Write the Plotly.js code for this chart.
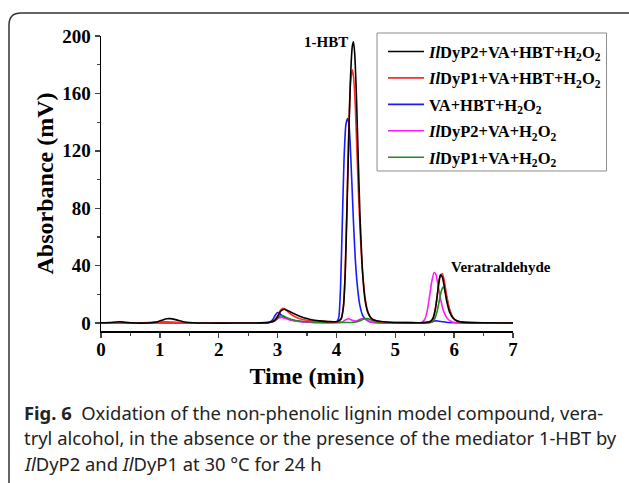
<!DOCTYPE html>
<html>
<head>
<meta charset="utf-8">
<script src="https://cdn.plot.ly/plotly-3.0.1.min.js"></script>
<style>html,body{margin:0;padding:0;background:#fff;}#chart{width:629px;height:483px;}</style>
</head>
<body>
<div id="chart"></div>
<script>
// ---- data ----
const seriesNames = [
  '<i>Il</i>DyP2+VA+HBT+H<sub>2</sub>O<sub>2</sub>',
  '<i>Il</i>DyP1+VA+HBT+H<sub>2</sub>O<sub>2</sub>',
  'VA+HBT+H<sub>2</sub>O<sub>2</sub>',
  '<i>Il</i>DyP2+VA+H<sub>2</sub>O<sub>2</sub>',
  '<i>Il</i>DyP1+VA+H<sub>2</sub>O<sub>2</sub>'
];
const seriesColors = ['#000000', '#ff2a2a', '#1a1aff', '#ff1aff', '#1f8c1f'];

const tBlack = [0,0.15,0.25,0.32,0.4,0.5,0.8,0.95,1.05,1.12,1.18,1.25,1.32,1.4,1.5,1.65,2.0,2.6,2.85,2.95,3.0,3.04,3.08,3.12,3.16,3.22,3.3,3.4,3.5,3.6,3.75,3.9,4.02,4.08,4.12,4.15,4.18,4.21,4.24,4.27,4.29,4.31,4.34,4.37,4.4,4.44,4.48,4.53,4.6,4.7,4.85,5.2,5.5,5.6,5.65,5.69,5.72,5.75,5.77,5.8,5.83,5.87,5.92,5.98,6.05,6.2,6.5,7.0];
const vBlack = [0.2,0.4,0.8,0.9,0.6,0.2,0.1,0.8,2.2,3.0,3.1,2.6,1.8,1.0,0.4,0.1,0,0.1,0.5,1.8,4.5,7.5,9.2,9.6,9.0,7.8,6.2,4.5,3.2,2.2,1.4,1.0,1.2,3,12,35,80,130,172,193,196,188,158,115,75,38,18,8,3,1.5,0.8,0.3,0.3,1.2,4,12,22,31,33.6,32,26,16,8,3.5,1.5,0.5,0.2,0.1];

const tRed = [0,0.5,0.9,1.1,1.3,1.6,2.5,2.85,2.95,3.0,3.04,3.08,3.11,3.15,3.2,3.28,3.38,3.5,3.65,3.8,3.9,4.02,4.08,4.12,4.15,4.18,4.21,4.24,4.27,4.29,4.32,4.35,4.38,4.42,4.46,4.5,4.55,4.62,4.72,4.9,5.3,5.55,5.62,5.67,5.71,5.74,5.77,5.8,5.83,5.87,5.92,5.98,6.05,6.2,6.5,7.0];
const vRed = [0,0,0.3,0.6,0.3,0,0,0.4,2.0,5,8.5,10.2,10.0,8.8,7.0,4.8,3.0,2.0,1.3,1.4,0.9,1.0,3,12,38,85,135,168,176.5,172,152,118,85,50,28,14,6,2.5,1.2,0.6,0.3,0.5,2,8,18,28,33.5,34.3,30,20,10,4,1.5,0.5,0.2,0.1];

const tBlue = [0,0.5,0.9,1.1,1.3,1.6,2.5,2.85,2.92,2.96,3.0,3.04,3.08,3.13,3.2,3.3,3.45,3.6,3.8,4.0,4.04,4.07,4.1,4.13,4.16,4.19,4.21,4.23,4.26,4.29,4.32,4.36,4.4,4.45,4.5,4.56,4.65,4.8,5.2,5.6,5.66,5.72,5.8,5.9,6.2,7.0];
const vBlue = [0,0,0.2,0.8,0.3,0,0,0.5,2.5,5.5,7.4,6.5,5.0,3.8,2.6,1.6,0.9,0.5,0.4,0.8,4,25,70,115,138,142.5,140,128,100,70,45,24,12,5,2.5,1,0.4,0.2,0.1,0.5,1.4,1.5,1.0,0.4,0.1,0];

const tMagenta = [0,0.5,1.0,1.5,2.5,2.8,2.92,2.98,3.03,3.07,3.12,3.2,3.3,3.45,3.6,3.8,4.0,4.1,4.16,4.21,4.26,4.31,4.36,4.41,4.46,4.51,4.56,4.62,4.7,4.9,5.3,5.45,5.5,5.54,5.58,5.62,5.66,5.69,5.72,5.76,5.8,5.85,5.9,5.96,6.03,6.1,6.3,7.0];
const vMagenta = [0,0,0,0,0,0.3,1.0,2.5,3.8,4.0,3.4,2.4,1.5,0.8,0.4,0.3,0.3,0.8,2.4,3.0,2.2,1.4,1.8,2.8,3.2,2.5,1.3,0.5,0.2,0.1,0,0.5,2.5,8,18,29,35.2,34,28,19,11,5.5,2.5,1.0,0.4,0.2,0,0];

const tGreen = [0,0.5,0.85,0.95,1.05,1.2,1.5,2.5,2.85,2.95,3.0,3.04,3.08,3.12,3.18,3.26,3.36,3.5,3.7,3.9,4.1,4.3,4.4,4.46,4.52,4.58,4.65,4.75,5.0,5.5,5.62,5.67,5.71,5.75,5.78,5.81,5.84,5.87,5.91,5.96,6.02,6.08,6.15,6.3,7.0];
const vGreen = [0,0,0.3,0.7,0.4,0.1,0,0,0.3,1.5,3.5,5.0,5.3,4.6,3.4,2.3,1.5,1.0,0.6,0.4,0.4,0.6,1.6,2.8,3.1,2.4,1.2,0.4,0.1,0.1,0.8,3,8,16,22,25,23.5,18.5,11,5,2,0.8,0.3,0.1,0];

const xTicks = [0,1,2,3,4,5,6,7];
const yTicks = [0,40,80,120,160,200];
const peakLabels = ['1-HBT', 'Veratraldehyde'];
const peakLabelX = [4.23, 5.91];
const peakLabelY = [196, 39.3];
const captionLines = [
  '<b>Fig. 6</b>\u00a0\u00a0Oxidation of the non-phenolic lignin model compound, vera-',
  'tryl alcohol, in the absence or the presence of the mediator 1-HBT by',
  '<i>Il</i>DyP2 and <i>Il</i>DyP1 at 30 °C for 24 h'
];

// ---- chart ----
const xs = [tBlack, tRed, tBlue, tMagenta, tGreen];
const ys = [vBlack, vRed, vBlue, vMagenta, vGreen];
const drawOrder = [2, 3, 4, 1, 0];
const traces = drawOrder.map(i => ({
  x: xs[i], y: ys[i], type: 'scatter', mode: 'lines', name: seriesNames[i],
  legendgroup: 'g' + i,
  line: {color: seriesColors[i], width: 1.6, shape: 'spline', smoothing: 0.5},
  legendrank: i + 1
}));

const serif = 'Liberation Serif, Times New Roman, serif';
const tickFont = {family: serif, size: 19, color: '#000', weight: 'bold'};

const annotations = peakLabels.map((t, i) => ({
  text: t, x: peakLabelX[i], y: peakLabelY[i], xref: 'x', yref: 'y',
  xanchor: i === 0 ? 'right' : 'left', yanchor: 'middle', showarrow: false,
  font: {family: serif, size: 15, color: '#000', weight: 'bold'}
}));
const capY = [-0.2746, -0.3627, -0.4508];
captionLines.forEach((t, i) => annotations.push({
  text: t, x: -0.1917, y: capY[i], xref: 'paper', yref: 'paper',
  xanchor: 'left', yanchor: 'middle', align: 'left', showarrow: false,
  font: {family: 'Noto Sans, Lato, sans-serif', size: 18.4, color: '#222'}
}));

const layout = {
  width: 629, height: 483,
  margin: {l: 101, r: 116, t: 36, b: 152},
  paper_bgcolor: '#fff', plot_bgcolor: '#fff',
  showlegend: true,
  legend: {
    x: 0.6845, y: 1.006, xanchor: 'left', yanchor: 'top',
    bgcolor: 'rgba(0,0,0,0)', borderwidth: 0, itemwidth: 36,
    font: {family: serif, size: 16.5, color: '#000', weight: 'bold'},
    traceorder: 'grouped', tracegroupgap: 2
  },
  xaxis: {
    range: [0, 7], tickvals: xTicks, ticks: 'outside', ticklen: 5, tickwidth: 1.5,
    ticklabelstandoff: -4,
    showline: true, linewidth: 1.5, linecolor: '#000', showgrid: false, zeroline: false,
    tickfont: tickFont,
    minor: {dtick: 0.5, ticklen: 3, tickwidth: 1.2, showgrid: false, ticks: 'outside'},
    title: {text: 'Time (min)', font: {family: serif, size: 24, color: '#000', weight: 'bold'}, standoff: 8}
  },
  yaxis: {
    range: [-5.5, 200], tickvals: yTicks, ticks: 'outside', ticklen: 5, tickwidth: 1.5,
    showline: true, linewidth: 1.5, linecolor: '#000', showgrid: false, zeroline: false,
    tickfont: tickFont,
    minor: {dtick: 20, ticklen: 3, tickwidth: 1.2, showgrid: false, ticks: 'outside'},
    title: {text: 'Absorbance (mV)', font: {family: serif, size: 24, color: '#000', weight: 'bold'}, standoff: 2}
  },
  annotations: annotations,
  shapes: [
    {
      type: 'path', xref: 'paper', yref: 'paper',
      path: 'M -0.2233,-0.6 L -0.2233,1.0373 Q -0.2233,1.078 -0.1942,1.078 L 1.32,1.078',
      line: {color: '#333', width: 1.5}
    },
    {
      type: 'rect', xref: 'paper', yref: 'paper', layer: 'below',
      x0: 0.670, x1: 1.227, y0: 0.5424, y1: 1.0102,
      fillcolor: '#fff', line: {color: '#8c8c8c', width: 1}
    }
  ]
};

Plotly.newPlot('chart', traces, layout, {staticPlot: true, displayModeBar: false});
</script>
</body>
</html>
